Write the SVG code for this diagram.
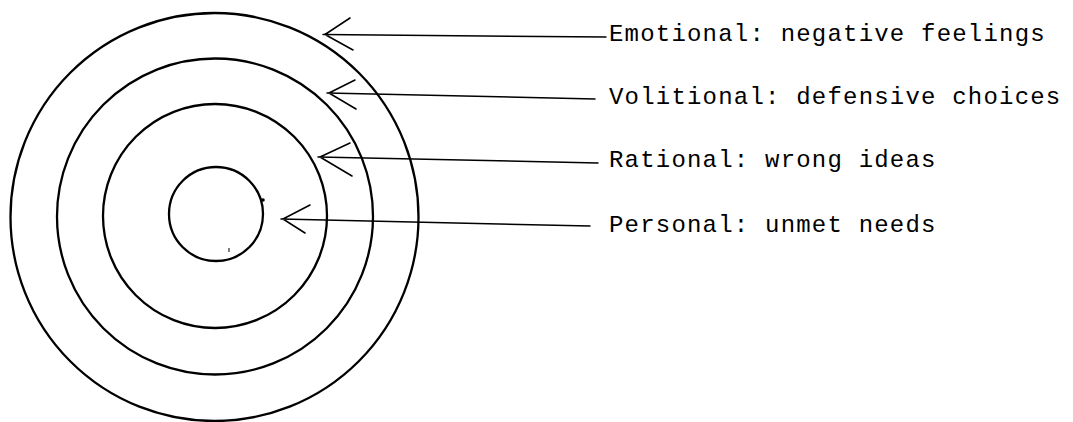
<svg xmlns="http://www.w3.org/2000/svg" width="1073" height="422" viewBox="0 0 1073 422">
<style>
.ring{fill:none;stroke:#000;stroke-width:2.3}
.con{fill:none;stroke:#000;stroke-width:1.5;stroke-linecap:round;stroke-linejoin:round}
.lbl{font-family:"Liberation Mono","DejaVu Sans Mono",monospace;font-size:24px;letter-spacing:1.2px;fill:#000}
</style>
<rect width="1073" height="422" fill="#fff"/>
<g id="rings">
<g id="ring-emotional"><circle class="ring" cx="214.5" cy="217" r="204" stroke-width="2.6"/></g>
<g id="ring-volitional"><circle class="ring" cx="215" cy="216.5" r="158"/></g>
<g id="ring-rational"><circle class="ring" cx="215" cy="216" r="112"/></g>
<g id="ring-personal"><circle class="ring" cx="216" cy="214" r="47" stroke-width="3"/>
<circle cx="263" cy="200" r="1.8" fill="#000"/>
<line x1="229" y1="248" x2="229" y2="252" stroke="#000" stroke-width="1"/></g>
</g>
<g id="connectors">
<path class="con" d="M606,37 L323,34.5 M350,18 L325,34.5 L353,50"/>
<path class="con" d="M595,99 L327,93 M355,80 L329,93 L356,109"/>
<path class="con" d="M598,163 L318,157 M350,143 L320,157 L352,176"/>
<path class="con" d="M590,226 L281,219 M310,205 L283,219 L305,233"/>
</g>
<g id="labels">
<g id="label-emotional"><text class="lbl" x="609" y="41">Emotional: negative feelings</text></g>
<g id="label-volitional"><text class="lbl" x="609" y="104">Volitional: defensive choices</text></g>
<g id="label-rational"><text class="lbl" x="609" y="167">Rational: wrong ideas</text></g>
<g id="label-personal"><text class="lbl" x="609" y="232">Personal: unmet needs</text></g>
</g>
</svg>
